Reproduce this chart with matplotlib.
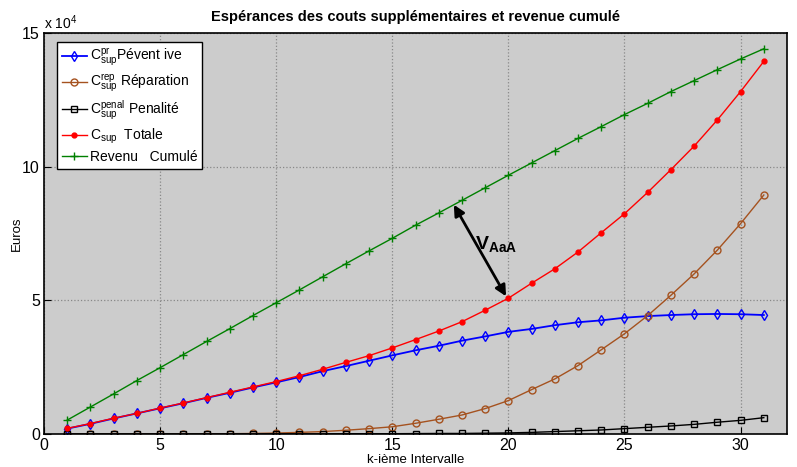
import numpy as np
import matplotlib
matplotlib.use("Agg")
import matplotlib.pyplot as plt

plt.rcParams['font.family'] = ['Liberation Sans', 'DejaVu Sans']
plt.rcParams['mathtext.fontset'] = 'custom'
plt.rcParams['mathtext.rm'] = 'Liberation Sans'
plt.rcParams['mathtext.it'] = 'Liberation Sans'
plt.rcParams['mathtext.bf'] = 'Liberation Sans:bold'

# data, in units of 1e4 euros
k = np.arange(1, 32)

c_prev = [0.20, 0.38, 0.58, 0.77, 0.96, 1.15, 1.35, 1.54, 1.74, 1.93,
          2.13, 2.35, 2.54, 2.74, 2.94, 3.13, 3.30, 3.49, 3.65, 3.82,
          3.93, 4.07, 4.18, 4.25, 4.35, 4.41, 4.45, 4.48, 4.49, 4.48, 4.45]

c_rep = [0.0, 0.0, 0.0, 0.0, 0.0, 0.0, 0.005, 0.01, 0.02, 0.035,
         0.06, 0.09, 0.14, 0.20, 0.27, 0.40, 0.55, 0.71, 0.95, 1.25,
         1.66, 2.06, 2.56, 3.15, 3.75, 4.43, 5.19, 5.99, 6.88, 7.87, 8.94]

c_penal = [0.0, 0.0, 0.0, 0.0, 0.0, 0.0, 0.0, 0.0, 0.0, 0.005,
           0.005, 0.005, 0.01, 0.01, 0.01, 0.015, 0.02, 0.02, 0.03, 0.04,
           0.06, 0.09, 0.12, 0.15, 0.20, 0.25, 0.30, 0.36, 0.44, 0.51, 0.61]

c_total = [0.21, 0.39, 0.59, 0.77, 0.97, 1.16, 1.36, 1.56, 1.76, 1.96,
           2.18, 2.42, 2.68, 2.93, 3.22, 3.53, 3.85, 4.20, 4.63, 5.08,
           5.64, 6.18, 6.81, 7.53, 8.24, 9.04, 9.89, 10.77, 11.75, 12.81, 13.94]

revenu = [0.52, 1.01, 1.50, 2.00, 2.48, 2.97, 3.46, 3.94, 4.43, 4.91,
          5.39, 5.88, 6.37, 6.85, 7.32, 7.81, 8.27, 8.74, 9.21, 9.68,
          10.14, 10.60, 11.06, 11.50, 11.95, 12.37, 12.81, 13.22, 13.63, 14.03, 14.41]

labels = [r"$\mathrm{C}^{pr}_{sup}$Pévent ive",
          r"$\mathrm{C}^{rep}_{sup}$ Réparation",
          r"$\mathrm{C}^{penal}_{sup}$ Penalité",
          r"$\mathrm{C}_{sup}$  Totale",
          "Revenu   Cumulé"]

brown = '#a5521f'

fig = plt.figure(figsize=(7.97, 4.67), dpi=100)
ax = fig.add_axes([0.0552, 0.0707, 0.9323, 0.8586])
ax.set_facecolor('#cccccc')

ax.plot(k, c_prev, color='blue', marker='d', mfc='none', ms=5, lw=1.3, label=labels[0])
ax.plot(k, c_rep, color=brown, marker='o', mfc='none', ms=5, lw=1, label=labels[1])
ax.plot(k, c_penal, color='black', marker='s', mfc='none', ms=4, lw=1, label=labels[2])
ax.plot(k, c_total, color='red', marker='.', ms=7, lw=1, label=labels[3])
ax.plot(k, revenu, color='green', marker='+', ms=6, lw=1, label=labels[4])

# V_AaA arrow between revenue curve and total cost at k=20
k_top = 17.65
y_top = np.interp(k_top, k, revenu)
ax.annotate('', xy=(k_top, y_top), xytext=(k[19] - 0.1, c_total[19] + 0.07),
            arrowprops=dict(arrowstyle='<|-|>', color='black', lw=2,
                            mutation_scale=16, shrinkA=0, shrinkB=0))
ax.text(18.55, 7.1, r"$\mathbf{V}_{\mathbf{AaA}}$", fontsize=14, ha='left', va='center')

ax.set_xlim(0, 32)
ax.set_ylim(0, 15)
ax.set_xticks([0, 5, 10, 15, 20, 25, 30])
ax.set_yticks([0, 5, 10, 15])
ax.tick_params(direction='in', labelsize=11.5, length=5, pad=3)
ax.grid(True, linestyle=':', color='#888888', lw=0.9)
for s in ax.spines.values():
    s.set_linewidth(1.2)

ax.text(0, 1.003, r"x 10$^4$", transform=ax.transAxes, fontsize=10, va='bottom')
ax.set_title("Espérances des couts supplémentaires et revenue cumulé",
             fontsize=10.5, fontweight='bold', pad=9)
ax.set_xlabel("k-ième Intervalle", fontsize=9.5)
ax.xaxis.set_label_coords(0.5, -0.05)
ax.set_ylabel("Euros", fontsize=9.5)
ax.yaxis.set_label_coords(-0.028, 0.5)

leg = ax.legend(loc='upper left', bbox_to_anchor=(0.0175, 0.978), borderaxespad=0,
                fontsize=10, fancybox=False, edgecolor='black', framealpha=1,
                handlelength=1.8, handletextpad=0.2, borderpad=0.35,
                labelspacing=0.3, numpoints=1)
leg.get_frame().set_linewidth(1)

fig.savefig("out.png", dpi=100)
